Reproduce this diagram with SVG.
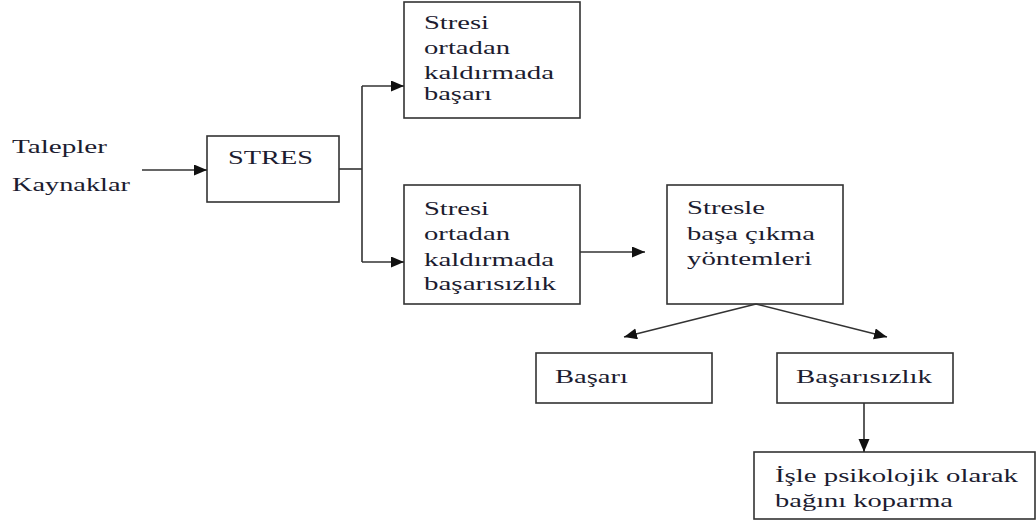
<svg xmlns="http://www.w3.org/2000/svg" width="1036" height="525" viewBox="0 0 1036 525">
<defs>
<style>
.box{fill:#fff;stroke:#333;stroke-width:1.6}
.ln{fill:none;stroke:#333;stroke-width:1.6}
.t{font-family:'Liberation Serif','Times New Roman','DejaVu Serif',serif;font-size:19px;fill:#1c1c30}
</style>
<marker id="ah" markerUnits="userSpaceOnUse" markerWidth="14" markerHeight="12" refX="13" refY="5.5" orient="auto">
<path d="M0,0 L13,5.5 L0,11 z" fill="#111"/>
</marker>
</defs>
<rect width="1036" height="525" fill="#fff"/>
<g id="inputs" class="t">
<text x="12" y="153" textLength="95" lengthAdjust="spacingAndGlyphs">Talepler</text>
<text x="12" y="191" textLength="118" lengthAdjust="spacingAndGlyphs">Kaynaklar</text>
</g>
<g id="stres" class="t">
<rect class="box" x="207" y="136" width="132" height="66"/>
<text x="228" y="164" textLength="85" lengthAdjust="spacingAndGlyphs">STRES</text>
</g>
<g id="basari1" class="t">
<rect class="box" x="404" y="2" width="176" height="116"/>
<text x="424" y="29" textLength="65" lengthAdjust="spacingAndGlyphs">Stresi</text>
<text x="424" y="54" textLength="86" lengthAdjust="spacingAndGlyphs">ortadan</text>
<text x="424" y="79" textLength="130" lengthAdjust="spacingAndGlyphs">kaldırmada</text>
<text x="424" y="100" textLength="68" lengthAdjust="spacingAndGlyphs">başarı</text>
</g>
<g id="basarisizlik1" class="t">
<rect class="box" x="404" y="185" width="176" height="119"/>
<text x="424" y="215" textLength="65" lengthAdjust="spacingAndGlyphs">Stresi</text>
<text x="424" y="240" textLength="86" lengthAdjust="spacingAndGlyphs">ortadan</text>
<text x="424" y="266" textLength="130" lengthAdjust="spacingAndGlyphs">kaldırmada</text>
<text x="424" y="290" textLength="132" lengthAdjust="spacingAndGlyphs">başarısızlık</text>
</g>
<g id="yontemler" class="t">
<rect class="box" x="667" y="185" width="176" height="119"/>
<text x="687" y="214" textLength="78" lengthAdjust="spacingAndGlyphs">Stresle</text>
<text x="687" y="240" textLength="128" lengthAdjust="spacingAndGlyphs">başa çıkma</text>
<text x="687" y="265" textLength="125" lengthAdjust="spacingAndGlyphs">yöntemleri</text>
</g>
<g id="basari2" class="t">
<rect class="box" x="536" y="353" width="176" height="50"/>
<text x="555" y="383" textLength="73" lengthAdjust="spacingAndGlyphs">Başarı</text>
</g>
<g id="basarisizlik2" class="t">
<rect class="box" x="777" y="353" width="176" height="50"/>
<text x="796" y="383" textLength="136" lengthAdjust="spacingAndGlyphs">Başarısızlık</text>
</g>
<g id="kopma" class="t">
<rect class="box" x="754" y="452" width="281" height="67"/>
<text x="775" y="482" textLength="243" lengthAdjust="spacingAndGlyphs">İşle psikolojik olarak</text>
<text x="775" y="507" textLength="178" lengthAdjust="spacingAndGlyphs">bağını koparma</text>
</g>
<g id="connectors">
<line class="ln" x1="142" y1="170" x2="207" y2="170" marker-end="url(#ah)"/>
<line class="ln" x1="339" y1="169" x2="362" y2="169"/>
<polyline class="ln" points="362,86 362,262"/>
<line class="ln" x1="362" y1="86" x2="404" y2="86" marker-end="url(#ah)"/>
<line class="ln" x1="362" y1="262" x2="404" y2="262" marker-end="url(#ah)"/>
<line class="ln" x1="580" y1="252" x2="645" y2="252" marker-end="url(#ah)"/>
<line class="ln" x1="756" y1="304" x2="624" y2="337" marker-end="url(#ah)"/>
<line class="ln" x1="756" y1="304" x2="887" y2="337" marker-end="url(#ah)"/>
<line class="ln" x1="864" y1="403" x2="864" y2="452" marker-end="url(#ah)"/>
</g>
</svg>
